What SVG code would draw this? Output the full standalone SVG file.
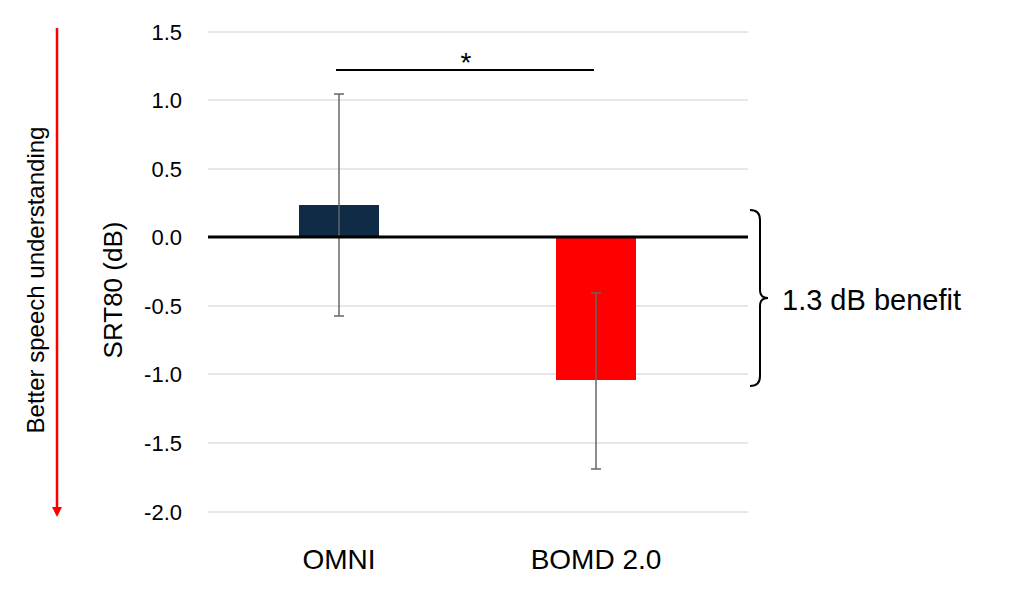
<svg xmlns="http://www.w3.org/2000/svg" width="1024" height="596" viewBox="0 0 1024 596">
<style>
text{font-family:"Liberation Sans",Arial,sans-serif;fill:#000}
.tick{font-size:22px;text-anchor:end}
.cat{font-size:28px;text-anchor:middle}
.grid{stroke:#d0d0d0;stroke-width:1}
.err{stroke:#666;stroke-width:1.5}
</style>
<defs><marker id="ah" markerWidth="10" markerHeight="10" refX="5" refY="5" orient="auto" markerUnits="userSpaceOnUse" viewBox="0 0 10 10"><path d="M0,0 L10,5 L0,10 z" fill="#f00"/></marker></defs>
<g id="grid">
<line class="grid" x1="208" y1="32" x2="748" y2="32"/>
<line class="grid" x1="208" y1="100" x2="748" y2="100"/>
<line class="grid" x1="208" y1="169" x2="748" y2="169"/>
<line class="grid" x1="208" y1="306" x2="748" y2="306"/>
<line class="grid" x1="208" y1="374" x2="748" y2="374"/>
<line class="grid" x1="208" y1="443" x2="748" y2="443"/>
<line class="grid" x1="208" y1="512" x2="748" y2="512"/>
</g>
<g id="ticks">
<text class="tick" x="182" y="40">1.5</text>
<text class="tick" x="182" y="108">1.0</text>
<text class="tick" x="182" y="177">0.5</text>
<text class="tick" x="182" y="245">0.0</text>
<text class="tick" x="182" y="314">-0.5</text>
<text class="tick" x="182" y="382">-1.0</text>
<text class="tick" x="182" y="451">-1.5</text>
<text class="tick" x="182" y="520">-2.0</text>
</g>
<g id="omni"><rect x="299" y="205" width="80" height="32" fill="#0f2b46"/><line class="err" x1="339" y1="94" x2="339" y2="316"/><line class="err" x1="334" y1="94" x2="344" y2="94"/><line class="err" x1="334" y1="316" x2="344" y2="316"/><text class="cat" x="339" y="569">OMNI</text></g>
<g id="bomd"><rect x="556" y="237" width="80" height="143" fill="#f00"/><line class="err" x1="596" y1="293" x2="596" y2="469"/><line class="err" x1="591" y1="293" x2="601" y2="293"/><line class="err" x1="591" y1="469" x2="601" y2="469"/><text class="cat" x="596" y="569">BOMD 2.0</text></g>
<line x1="208" y1="237" x2="748" y2="237" stroke="#000" stroke-width="3"/>
<g id="connectors">
<line x1="336" y1="70" x2="594" y2="70" stroke="#000" stroke-width="2"/>
<line x1="57" y1="28" x2="57" y2="512" stroke="#f00" stroke-width="2.5" marker-end="url(#ah)"/>
<path d="M750,210 Q760,210 760,220 L760,290 Q760,298 768,298 Q760,298 760,306 L760,376 Q760,386 750,386" fill="none" stroke="#000" stroke-width="2"/>
</g>
<text x="466" y="72" font-size="28" text-anchor="middle">*</text>
<text x="782" y="310" font-size="29">1.3 dB benefit</text>
<text transform="translate(122,290) rotate(-90)" font-size="26" text-anchor="middle">SRT80 (dB)</text>
<text transform="translate(44,280) rotate(-90)" font-size="24" text-anchor="middle">Better speech understanding</text>
</svg>
